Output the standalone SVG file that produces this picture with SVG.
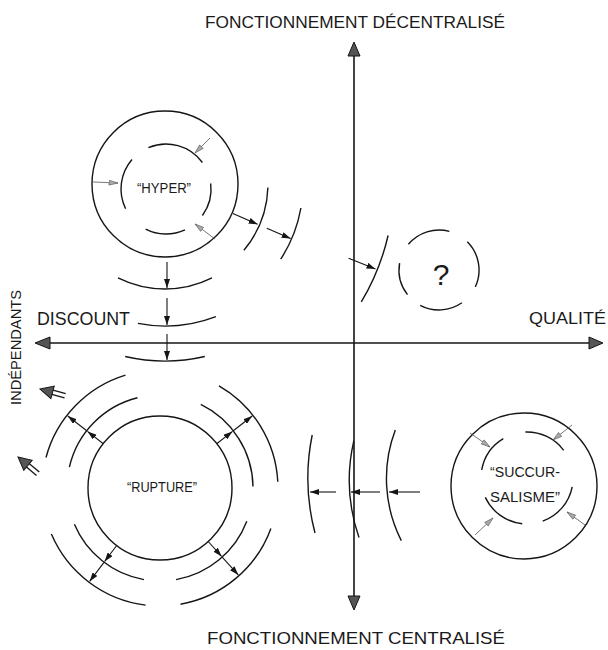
<svg xmlns="http://www.w3.org/2000/svg" width="608" height="650" viewBox="0 0 608 650">
  <style>
    .ln { fill: none; stroke: #151515; stroke-width: 1.4; }
    .ax { fill: none; stroke: #151515; stroke-width: 1.6; }
    .ar { fill: none; stroke: #151515; stroke-width: 1.1; marker-end: url(#ah); }
    .tn { fill: none; stroke: #555; stroke-width: 0.8; marker-end: url(#at); }
    .head { fill: #555; stroke: #151515; stroke-width: 1; stroke-linejoin: miter; }
    .lbl { font-family: "Liberation Sans", Arial, sans-serif; fill: #1a1a1a; }
  </style>
  <defs>
    <marker id="ah" markerUnits="userSpaceOnUse" markerWidth="9" markerHeight="6" refX="9" refY="3" orient="auto">
      <path d="M0,0 L9,3 L0,6 Z" fill="#151515"/>
    </marker>
    <marker id="at" markerUnits="userSpaceOnUse" markerWidth="10" markerHeight="6" refX="9.5" refY="3" orient="auto">
      <path d="M0.5,0.5 L9.5,3 L0.5,5.5 Z" fill="#aaa" stroke="#555" stroke-width="0.6"/>
    </marker>
    <!-- hollow double-shafted arrow, tip at origin, pointing along -x -->
    <g id="dbl">
      <line x1="11" y1="-2.2" x2="26" y2="-2.2" stroke="#151515" stroke-width="1.3"/>
      <line x1="11" y1="2.2" x2="26" y2="2.2" stroke="#151515" stroke-width="1.3"/>
      <path d="M0,0 L13,-6.5 L13,6.5 Z" class="head"/>
    </g>
  </defs>

  <!-- axes -->
  <g id="axes">
    <line class="ax" x1="354" y1="50" x2="354" y2="602"/>
    <line class="ax" x1="44" y1="343" x2="594" y2="343"/>
    <path class="head" d="M354,42 L360,56 L348,56 Z"/>
    <path class="head" d="M354,610 L360,596 L348,596 Z"/>
    <path class="head" d="M35,343 L50,337 L50,349 Z"/>
    <path class="head" d="M603,343 L589,337 L589,349 Z"/>
  </g>

  <!-- axis labels -->
  <g id="labels" class="lbl">
    <text x="205" y="28" font-size="17" textLength="300" lengthAdjust="spacingAndGlyphs">FONCTIONNEMENT DÉCENTRALISÉ</text>
    <text x="207" y="644" font-size="17" textLength="298" lengthAdjust="spacingAndGlyphs">FONCTIONNEMENT CENTRALISÉ</text>
    <text x="37" y="325" font-size="19" textLength="93" lengthAdjust="spacingAndGlyphs">DISCOUNT</text>
    <text x="529" y="324" font-size="17" textLength="77" lengthAdjust="spacingAndGlyphs">QUALITÉ</text>
    <text transform="translate(21,405) rotate(-90)" font-size="15" textLength="115" lengthAdjust="spacingAndGlyphs">INDÉPENDANTS</text>
  </g>

  <!-- "HYPER" node -->
  <g id="hyper">
    <circle class="ln" cx="165" cy="184" r="73"/>
    <path class="ln" d="M148.4,147.6 A45,45 0 0 1 202.4,162.5"/>
    <path class="ln" d="M210.7,183.5 A45,45 0 0 1 202.4,215.5"/>
    <path class="ln" d="M185,229.8 A45,45 0 0 1 145.6,229.1"/>
    <path class="ln" d="M125.6,208.7 A45,45 0 0 1 132,159.5"/>
    <line class="tn" x1="210" y1="138" x2="195" y2="153"/>
    <line class="tn" x1="93" y1="182" x2="118" y2="183"/>
    <line class="tn" x1="215" y1="239" x2="195" y2="224"/>
    <text class="lbl" x="164" y="193" font-size="14" text-anchor="middle" textLength="54" lengthAdjust="spacingAndGlyphs">“HYPER”</text>
  </g>

  <!-- "?" node -->
  <g id="unknown">
    <path class="ln" d="M408.4,244.3 A40,40 0 0 1 449.4,231.4"/>
    <path class="ln" d="M467.3,241.7 A40,40 0 0 1 475.3,286.9"/>
    <path class="ln" d="M461.9,302.8 A40,40 0 0 1 420.2,305.3"/>
    <path class="ln" d="M407.5,294.6 A40,40 0 0 1 399.6,263.1"/>
    <text class="lbl" x="441" y="285" font-size="30" text-anchor="middle">?</text>
  </g>

  <!-- "RUPTURE" node -->
  <g id="rupture">
    <circle class="ln" cx="160" cy="488" r="72"/>
    <text class="lbl" x="162" y="492" font-size="14" text-anchor="middle" textLength="70" lengthAdjust="spacingAndGlyphs">“RUPTURE”</text>
  </g>

  <!-- "SUCCURSALISME" node -->
  <g id="succursalisme">
    <circle class="ln" cx="524" cy="486" r="73"/>
    <path class="ln" d="M525.4,432 A46,46 0 0 1 563.7,450.3"/>
    <path class="ln" d="M481.7,470 A46,46 0 0 1 503.3,438.6"/>
    <path class="ln" d="M522.2,523.7 A46,46 0 0 1 485.3,497.4"/>
    <path class="ln" d="M572.2,486.8 A46,46 0 0 1 542.7,521.2"/>
    <line class="tn" x1="470" y1="433" x2="490" y2="447"/>
    <line class="tn" x1="572" y1="425" x2="553" y2="440"/>
    <line class="tn" x1="475" y1="535" x2="493" y2="518"/>
    <line class="tn" x1="585" y1="525" x2="567" y2="512"/>
    <text class="lbl" x="525" y="477" font-size="14" text-anchor="middle" textLength="70" lengthAdjust="spacingAndGlyphs">“SUCCUR-</text>
    <text class="lbl" x="525" y="502" font-size="14" text-anchor="middle" textLength="70" lengthAdjust="spacingAndGlyphs">SALISME”</text>
  </g>

  <!-- connectors: spreading wave fronts and arrows -->
  <g id="connectors">
    <!-- from HYPER downwards -->
    <line class="ar" x1="167" y1="262" x2="167" y2="288"/>
    <path class="ln" d="M212,277.9 A105,105 0 0 1 118,277.9"/>
    <line class="ar" x1="167" y1="298" x2="167" y2="325"/>
    <path class="ln" d="M215.9,316.6 A142,142 0 0 1 137.9,323.4"/>
    <line class="ar" x1="167" y1="334" x2="167" y2="360"/>
    <path class="ln" d="M204.8,356.5 A177,177 0 0 1 125.2,356.5"/>

    <!-- from HYPER towards the right -->
    <line class="ar" x1="232.9" y1="213.5" x2="257.6" y2="224.3"/>
    <path class="ln" d="M267.9,187.6 A103,103 0 0 1 243.9,250.2"/>
    <line class="ar" x1="266.8" y1="228.3" x2="290.6" y2="238.6"/>
    <path class="ln" d="M300.9,208 A138,138 0 0 1 280.7,259.2"/>
    <line class="ar" x1="348.6" y1="258.2" x2="375.5" y2="269"/>
    <path class="ln" d="M388.1,235.5 A229,229 0 0 1 361.3,301.9"/>

    <!-- RUPTURE rings -->
    <path class="ln" d="M69.4,467.1 A93,93 0 0 1 137.5,397.8"/>
    <path class="ln" d="M200.8,404.4 A93,93 0 0 1 253,486.4"/>
    <path class="ln" d="M246.8,521.3 A93,93 0 0 1 176.1,579.6"/>
    <path class="ln" d="M143.9,579.6 A93,93 0 0 1 74.4,524.3"/>
    <path class="ln" d="M46,457.5 A118,118 0 0 1 125.5,375.2"/>
    <path class="ln" d="M219,385.8 A118,118 0 0 1 277.8,481.8"/>
    <path class="ln" d="M270.9,528.4 A118,118 0 0 1 180.5,604.2"/>
    <path class="ln" d="M145.6,605.1 A118,118 0 0 1 51.4,534.1"/>
    <line class="ar" x1="103.3" y1="443.7" x2="87.5" y2="431.4"/>
    <line class="ar" x1="86.7" y1="430.7" x2="67.8" y2="416"/>
    <line class="ar" x1="216.7" y1="443.7" x2="232.5" y2="431.4"/>
    <line class="ar" x1="233.3" y1="430.7" x2="252.2" y2="416"/>
    <line class="ar" x1="116.7" y1="545.5" x2="104.6" y2="561.5"/>
    <line class="ar" x1="104" y1="562.3" x2="89.6" y2="581.4"/>
    <line class="ar" x1="208.2" y1="541.5" x2="221.6" y2="556.4"/>
    <line class="ar" x1="222.2" y1="557.1" x2="238.3" y2="574.9"/>

    <!-- double arrows towards INDÉPENDANTS -->
    <use href="#dbl" transform="translate(40,389) rotate(15)"/>
    <use href="#dbl" transform="translate(18,457) rotate(40)"/>

    <!-- from SUCCURSALISME towards the left -->
    <path class="ln" d="M401.3,540.6 A137,137 0 0 1 395.3,430.1"/>
    <path class="ln" d="M359,537.5 A175,175 0 0 1 353.8,440.8"/>
    <path class="ln" d="M315,533 A216,216 0 0 1 312.2,435"/>
    <line class="ar" x1="420" y1="492" x2="389" y2="492"/>
    <line class="ar" x1="380" y1="492" x2="351" y2="492"/>
    <line class="ar" x1="336" y1="492" x2="310" y2="492"/>
  </g>
</svg>
